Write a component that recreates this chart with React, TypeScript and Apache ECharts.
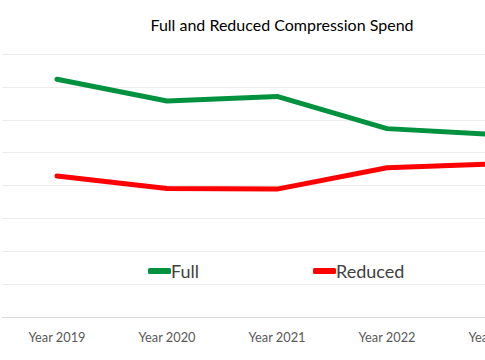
import React, { useEffect, useRef } from "react";
import * as echarts from "echarts";

const categories = ["Year 2019", "Year 2020", "Year 2021", "Year 2022", "Year 2023"];
const fullValues = [7.23, 6.57, 6.71, 5.73, 5.55];
const reducedValues = [4.29, 3.91, 3.89, 4.54, 4.66];

export default function App() {
  const ref = useRef<HTMLDivElement>(null);
  useEffect(() => {
    document.body.style.margin = "0";
    const chart = echarts.init(ref.current!, null, { renderer: "svg" });
    chart.setOption({
      animation: false,
      backgroundColor: "#ffffff",
      title: {
        text: "Full and Reduced Compression Spend",
        left: 277,
        textAlign: "center",
        top: 11,
        textStyle: { fontFamily: "Lato", fontSize: 16, fontWeight: "normal", color: "#000000" },
      },
      legend: {
        left: 143,
        top: 257,
        orient: "horizontal",
        itemGap: 114,
        itemWidth: 23,
        itemHeight: 6,
        icon: "roundRect",
        textStyle: { fontFamily: "Lato", fontSize: 18, color: "#404040", padding: [0, 0, 0, -5] },
        data: ["Full", "Reduced"],
      },
      grid: { left: 2, top: 54, width: 550, height: 263, containLabel: false },
      xAxis: {
        type: "category",
        data: categories,
        boundaryGap: true,
        axisLine: { show: true, lineStyle: { color: "#d9d9d9", width: 1 } },
        axisTick: { show: false },
        axisLabel: { fontFamily: "Lato", fontSize: 12.8, color: "#595959", margin: 13 },
      },
      yAxis: {
        type: "value",
        min: 0,
        max: 8,
        interval: 1,
        axisLabel: { show: false },
        axisLine: { show: false },
        axisTick: { show: false },
        splitLine: { lineStyle: { color: "#ececec", width: 1 } },
      },
      series: [
        {
          name: "Full",
          type: "line",
          data: fullValues,
          symbol: "none",
          lineStyle: { color: "#00923f", width: 5, cap: "round", join: "round" },
          itemStyle: { color: "#00923f" },
        },
        {
          name: "Reduced",
          type: "line",
          data: reducedValues,
          symbol: "none",
          lineStyle: { color: "#ff0000", width: 5, cap: "round", join: "round" },
          itemStyle: { color: "#ff0000" },
        },
      ],
    });
    return () => chart.dispose();
  }, []);
  return (
    <div style={{ width: 485, height: 360, overflow: "hidden", position: "relative" }}>
      <div ref={ref} style={{ width: 560, height: 360 }} />
    </div>
  );
}
